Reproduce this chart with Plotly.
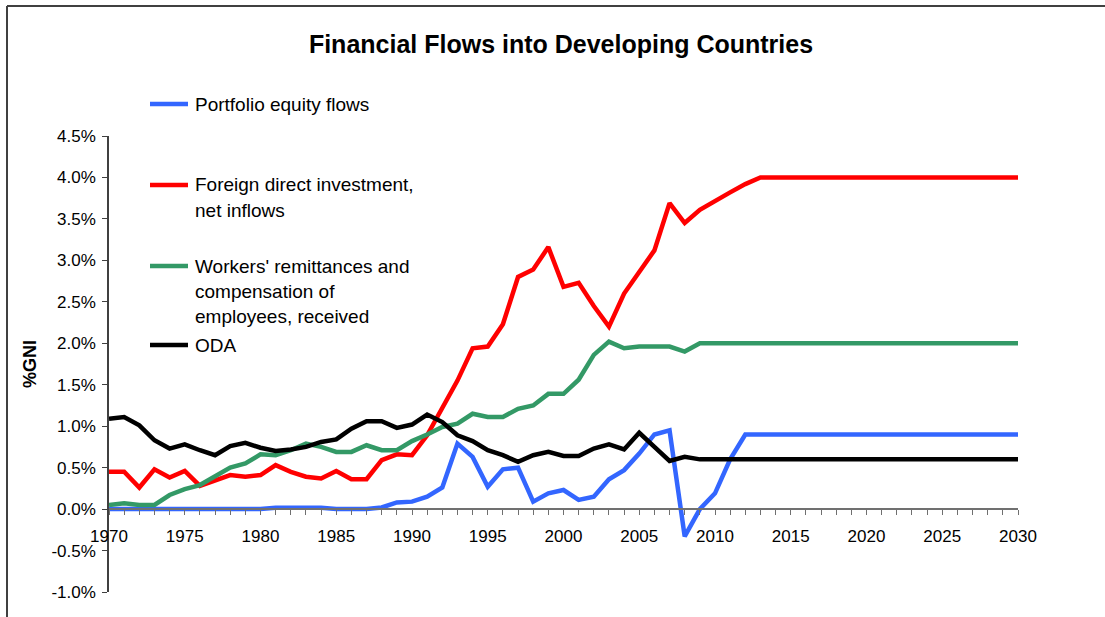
import plotly.graph_objects as go

years = list(range(1970, 2031))

portfolio_equity = [
    0.00, 0.00, 0.00, 0.00, 0.00, 0.00, 0.00, 0.00, 0.00, 0.00,   # 1970-1979
    0.00, 0.015, 0.015, 0.015, 0.015, 0.00, 0.00, 0.00, 0.02, 0.08,  # 1980-1989
    0.09, 0.15, 0.26, 0.79, 0.63, 0.27, 0.48, 0.50, 0.09, 0.19,   # 1990-1999
    0.23, 0.11, 0.15, 0.36, 0.47, 0.67, 0.90, 0.95, -0.33, 0.00,  # 2000-2009
    0.19, 0.60, 0.90, 0.90, 0.90, 0.90, 0.90, 0.90, 0.90, 0.90,   # 2010-2019
    0.90, 0.90, 0.90, 0.90, 0.90, 0.90, 0.90, 0.90, 0.90, 0.90,   # 2020-2029
    0.90,                                                         # 2030
]

fdi_inflows = [
    0.45, 0.45, 0.26, 0.48, 0.38, 0.46, 0.28, 0.34, 0.41, 0.39,
    0.41, 0.53, 0.45, 0.39, 0.37, 0.46, 0.36, 0.36, 0.59, 0.66,
    0.65, 0.89, 1.22, 1.55, 1.94, 1.96, 2.23, 2.80, 2.89, 3.16,
    2.68, 2.73, 2.45, 2.20, 2.60, 2.86, 3.12, 3.69, 3.45, 3.61,
    3.72, 3.82, 3.92, 4.00, 4.00, 4.00, 4.00, 4.00, 4.00, 4.00,
    4.00, 4.00, 4.00, 4.00, 4.00, 4.00, 4.00, 4.00, 4.00, 4.00,
    4.00,
]

remittances = [
    0.05, 0.07, 0.05, 0.05, 0.17, 0.24, 0.29, 0.40, 0.50, 0.55,
    0.66, 0.65, 0.71, 0.79, 0.75, 0.69, 0.69, 0.77, 0.71, 0.71,
    0.82, 0.90, 0.99, 1.03, 1.15, 1.11, 1.11, 1.21, 1.25, 1.39,
    1.39, 1.56, 1.86, 2.02, 1.94, 1.96, 1.96, 1.96, 1.90, 2.00,
    2.00, 2.00, 2.00, 2.00, 2.00, 2.00, 2.00, 2.00, 2.00, 2.00,
    2.00, 2.00, 2.00, 2.00, 2.00, 2.00, 2.00, 2.00, 2.00, 2.00,
    2.00,
]

oda = [
    1.09, 1.11, 1.01, 0.83, 0.73, 0.78, 0.71, 0.65, 0.76, 0.80,
    0.74, 0.70, 0.72, 0.75, 0.81, 0.84, 0.97, 1.06, 1.06, 0.98,
    1.02, 1.14, 1.05, 0.89, 0.82, 0.71, 0.65, 0.57, 0.65, 0.69,
    0.64, 0.64, 0.73, 0.78, 0.72, 0.92, 0.75, 0.58, 0.63, 0.60,
    0.60, 0.60, 0.60, 0.60, 0.60, 0.60, 0.60, 0.60, 0.60, 0.60,
    0.60, 0.60, 0.60, 0.60, 0.60, 0.60, 0.60, 0.60, 0.60, 0.60,
    0.60,
]

series_names = ["Portfolio equity flows", "Foreign direct investment, net inflows",
                "Workers' remittances and compensation of employees, received", "ODA"]
legend_lines = [["Portfolio equity flows"],
                ["Foreign direct investment,", "net inflows"],
                ["Workers' remittances and", "compensation of", "employees, received"],
                ["ODA"]]
colors = ["#3366FF", "#FF0000", "#339966", "#000000"]
series_values = [portfolio_equity, fdi_inflows, remittances, oda]

x_tick_years = list(range(1970, 2031))
x_tick_text = [str(y) if y % 5 == 0 else "" for y in x_tick_years]
y_tick_vals = [-1.0, -0.5, 0.0, 0.5, 1.0, 1.5, 2.0, 2.5, 3.0, 3.5, 4.0, 4.5]
y_tick_text = ["-1.0%", "-0.5%", "0.0%", "0.5%", "1.0%", "1.5%", "2.0%", "2.5%",
               "3.0%", "3.5%", "4.0%", "4.5%"]

W, H = 1105, 617
L, R, T, B = 109, 1018, 136, 592
FONT = "Liberation Sans, Arial, sans-serif"


def px_x(px):
    return (px - L) / (R - L)


def px_y(py):
    return (B - py) / (B - T)


fig = go.Figure()
for name, vals, col in zip(series_names, series_values, colors):
    fig.add_trace(go.Scatter(x=years, y=vals, mode="lines", name=name,
                             line=dict(color=col, width=4.5), showlegend=False))

shapes = []
annotations = []
# custom legend
legend_y = [104, 185, 266, 345]
for lines, col, ly in zip(legend_lines, colors, legend_y):
    shapes.append(dict(type="line", xref="paper", yref="paper",
                       x0=px_x(150), x1=px_x(188), y0=px_y(ly), y1=px_y(ly),
                       line=dict(color=col, width=4.5)))
    for i, t in enumerate(lines):
        annotations.append(dict(text=t, xref="paper", yref="paper",
                                x=px_x(193), y=px_y(ly + i * 25.2),
                                xanchor="left", yanchor="middle", showarrow=False,
                                font=dict(family=FONT, size=19, color="#000000")))

# outer frame (top and left visible)
shapes.append(dict(type="line", xref="paper", yref="paper",
                   x0=px_x(7), x1=px_x(1115), y0=px_y(6), y1=px_y(6),
                   line=dict(color="#404040", width=2)))
shapes.append(dict(type="line", xref="paper", yref="paper",
                   x0=px_x(7), x1=px_x(7), y0=px_y(6), y1=px_y(630),
                   line=dict(color="#404040", width=2)))

# y axis title
annotations.append(dict(text="<b>%GNI</b>", xref="paper", yref="paper",
                        x=px_x(30), y=px_y(364), textangle=-90,
                        xanchor="center", yanchor="middle", showarrow=False,
                        font=dict(family=FONT, size=18, color="#000000")))

fig.update_layout(
    width=W, height=H,
    margin=dict(l=L, r=W - R, t=T, b=H - B, autoexpand=False),
    paper_bgcolor="white", plot_bgcolor="white",
    title=dict(text="<b>Financial Flows into Developing Countries</b>",
               xref="paper", x=px_x(561), y=1 - 44 / H, yref="container",
               xanchor="center", yanchor="middle",
               font=dict(family=FONT, size=25, color="#000000")),
    xaxis=dict(range=[1970, 2030], tickmode="array", tickvals=x_tick_years,
               ticktext=x_tick_text, ticks="outside", ticklen=5, tickwidth=1,
               tickcolor="#707070", showline=True, linecolor="#707070", linewidth=1.5,
               showgrid=False, zeroline=False, anchor="free",
               position=(0 - (-1.0)) / (4.5 - (-1.0)), ticklabelstandoff=7,
               tickfont=dict(family=FONT, size=17, color="#000000")),
    yaxis=dict(range=[-1.0, 4.5], tickmode="array", tickvals=y_tick_vals,
               ticktext=y_tick_text, ticks="outside", ticklen=5, tickwidth=1,
               tickcolor="#404040", showline=True, linecolor="#404040", linewidth=1.5,
               showgrid=False, zeroline=False, ticklabelstandoff=3,
               tickfont=dict(family=FONT, size=17, color="#000000")),
    shapes=shapes,
    annotations=annotations,
)

fig.write_html("out.html", config={"displayModeBar": False},
               post_script="document.body.style.margin='0';document.body.style.padding='0';")
